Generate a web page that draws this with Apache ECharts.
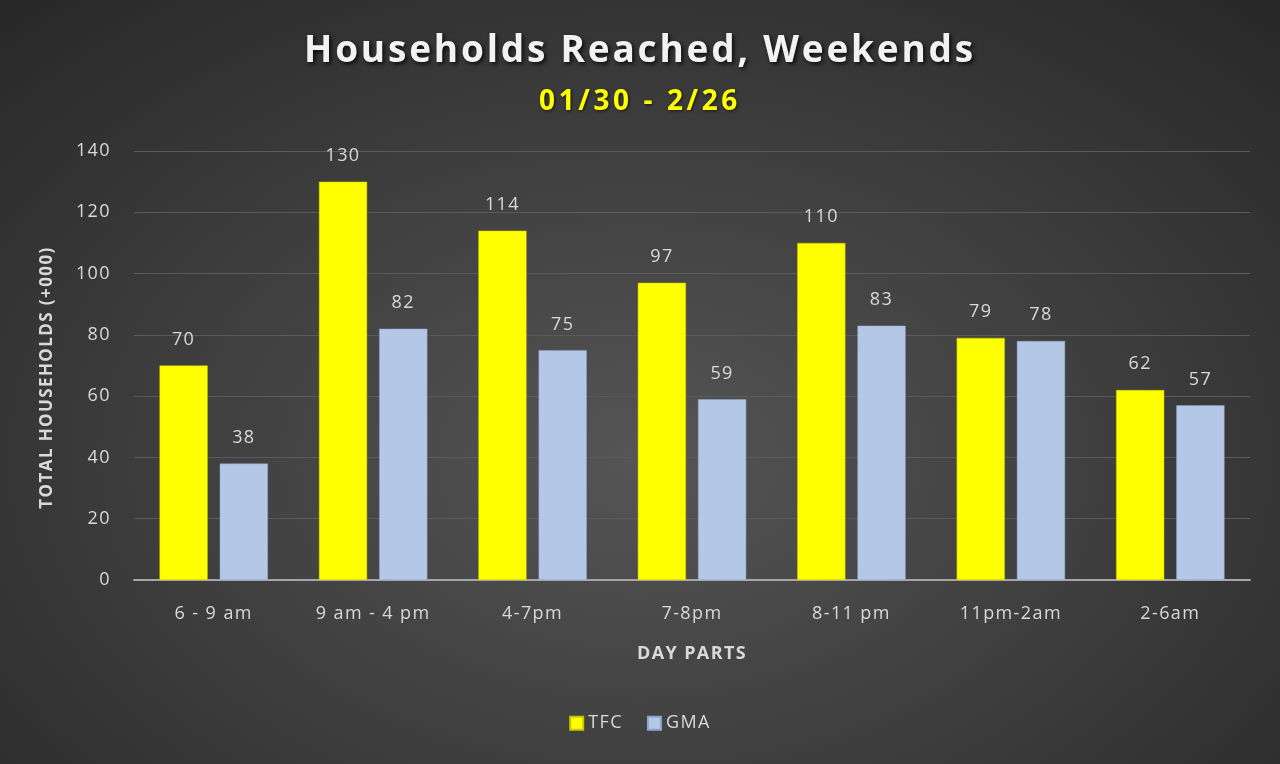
<!DOCTYPE html>
<html>
<head>
<meta charset="utf-8">
<script src="https://cdn.jsdelivr.net/npm/echarts@6/dist/echarts.min.js"></script>
<style>
html,body{margin:0;padding:0;width:1280px;height:764px;overflow:hidden;}
#c{width:1280px;height:764px;background:radial-gradient(ellipse 75% 85% at 50% 60%, #555555 0%, #404040 45%, #262626 100%);}
</style>
</head>
<body>
<div id="c"></div>
<script>
const categories = ['6 - 9 am', '9 am - 4 pm', '4-7pm', '7-8pm', '8-11 pm', '11pm-2am', '2-6am'];
const tfc = [70, 130, 114, 97, 110, 79, 62];
const gma = [38, 82, 75, 59, 83, 78, 57];
const yTicks = [0, 20, 40, 60, 80, 100, 120, 140];

// letter spacing to mimic the spaced-out text of the original (applied per font size)
(function () {
  const P = CanvasRenderingContext2D.prototype;
  if (!('letterSpacing' in P)) return;
  const spacingFor = f => {
    const m = /(\d+(?:\.\d+)?)px/.exec(f || '');
    if (!m) return '0px';
    const s = parseFloat(m[1]);
    if (s >= 36) return '2.8px';
    if (s >= 27) return '3.6px';
    return (s * 0.08).toFixed(1) + 'px';
  };
  ['fillText', 'strokeText', 'measureText'].forEach(name => {
    const orig = P[name];
    P[name] = function () {
      const prev = this.letterSpacing;
      this.letterSpacing = spacingFor(this.font);
      const r = orig.apply(this, arguments);
      this.letterSpacing = prev;
      return r;
    };
  });
})();

const FONT = '"Open Sans", Lato, sans-serif';
const chart = echarts.init(document.getElementById('c'));
chart.setOption({
  backgroundColor: 'transparent',
  textStyle: {fontFamily: FONT},
  title: [{
    text: 'Households Reached, Weekends',
    left: 'center', top: 27,
    textStyle: {color: '#f2f2f2', fontSize: 37, fontWeight: 'bold', fontFamily: FONT,
      textShadowColor: 'rgba(0,0,0,0.8)', textShadowBlur: 4, textShadowOffsetX: 2, textShadowOffsetY: 2}
  }, {
    text: '01/30 - 2/26',
    left: 'center', top: 81,
    textStyle: {color: '#ffff00', fontSize: 28, fontWeight: 'bold', fontFamily: FONT,
      textShadowColor: 'rgba(0,0,0,0.6)', textShadowBlur: 3, textShadowOffsetX: 1, textShadowOffsetY: 1}
  }],
  legend: {
    bottom: 26, left: 'center',
    itemWidth: 13, itemHeight: 13, itemGap: 24,
    icon: 'rect',
    textStyle: {color: '#d9d9d9', fontSize: 18, fontFamily: FONT},
    data: ['TFC', 'GMA']
  },
  grid: {left: 134, right: 30, top: 151, bottom: 184, containLabel: false},
  xAxis: {
    type: 'category', data: categories,
    name: 'DAY PARTS', nameLocation: 'middle', nameGap: 64,
    nameTextStyle: {color: '#d9d9d9', fontSize: 18, fontWeight: 'bold', fontFamily: FONT},
    axisLine: {lineStyle: {color: '#a6a6a6', width: 2}},
    axisTick: {show: false},
    axisLabel: {color: '#d9d9d9', fontSize: 18, margin: 24, fontFamily: FONT}
  },
  yAxis: {
    type: 'value', min: 0, max: 140, interval: 20,
    name: 'TOTAL HOUSEHOLDS (+000)', nameLocation: 'middle', nameGap: 78, nameRotate: 90,
    nameTextStyle: {color: '#d9d9d9', fontSize: 17, fontWeight: 'bold', fontFamily: FONT, padding: [0, 24, 0, 0]},
    axisLine: {show: false}, axisTick: {show: false},
    axisLabel: {color: '#d9d9d9', fontSize: 18, margin: 23, fontFamily: FONT,
      formatter: v => yTicks.includes(v) ? String(v) : ''},
    splitLine: {lineStyle: {color: '#5a5a5a', width: 1}}
  },
  series: [{
    name: 'TFC', type: 'bar', data: tfc,
    barGap: '25%', barCategoryGap: '32%',
    itemStyle: {color: '#ffff00', borderColor: '#c8c800', borderWidth: 0.5},
    label: {show: true, position: 'top', distance: 16, color: '#d9d9d9', fontSize: 18, fontFamily: FONT}
  }, {
    name: 'GMA', type: 'bar', data: gma,
    itemStyle: {color: '#b4c7e7', borderColor: '#8fa6cc', borderWidth: 0.5},
    label: {show: true, position: 'top', distance: 16, color: '#d9d9d9', fontSize: 18, fontFamily: FONT}
  }]
});
</script>
</body>
</html>
